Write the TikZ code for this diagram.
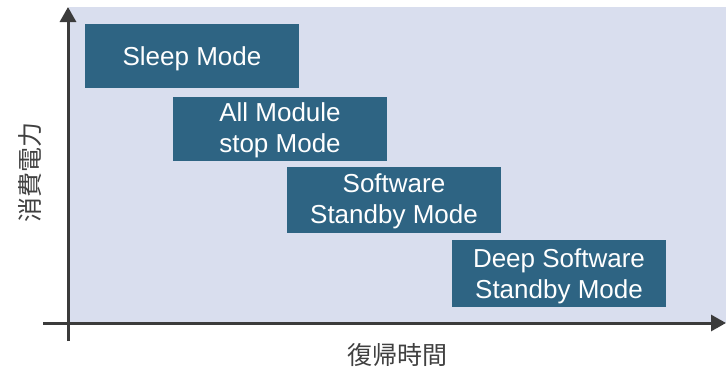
\documentclass[tikz,border=0pt]{standalone}
\usepackage{fontspec}
\setmainfont{Liberation Sans}
\newfontfamily\jpfont{Noto Sans CJK JP}
\usetikzlibrary{arrows.meta}
\definecolor{panelbg}{HTML}{D9DEEE}
\definecolor{modebox}{HTML}{2E6483}
\definecolor{axisgray}{HTML}{3B3B3B}
\definecolor{labelgray}{HTML}{404040}
\tikzset{
  modenode/.style={fill=modebox, draw=none, minimum width=214pt, inner sep=0pt},
  modetext/.style={text=white, align=center, inner sep=0pt,
    font=\fontsize{26}{31}\selectfont},
  axisline/.style={draw=axisgray, line width=3pt,
    -{Triangle[width=16pt,length=15pt]}},
  axislabel/.style={text=labelgray, inner sep=0pt, font=\jpfont\fontsize{25}{28}\selectfont}
}
\begin{document}
\begin{tikzpicture}[x=1pt,y=-1pt]
  \useasboundingbox (0,0) rectangle (726,368);
  % plot area
  \fill[panelbg] (69,7) rectangle (726,323);
  % mode boxes
  \node[modenode, minimum height=64pt] (sleep) at (192,56) {};
  \node[modenode, minimum height=64pt] (allstop) at (280,129) {};
  \node[modenode, minimum height=66pt] (swstby) at (394,200) {};
  \node[modenode, minimum height=67pt] (deepstby) at (559,273.5) {};
  % box captions, set a little below the box centres
  \node[modetext] (sleeptxt) at ([yshift=-3pt]sleep.center) {Sleep Mode};
  \node[modetext] (allstoptxt) at ([yshift=-1.5pt]allstop.center) {All Module\\stop Mode};
  \node[modetext] (swstbytxt) at ([yshift=-1.5pt]swstby.center) {Software\\Standby Mode};
  \node[modetext] (deepstbytxt) at ([yshift=-2.5pt]deepstby.center) {Deep Software\\Standby Mode};
  % axes
  \coordinate (yfoot) at (68,341);
  \coordinate (ytip) at (68,7);
  \coordinate (xfoot) at (43,323);
  \coordinate (xtip) at (726,323);
  \draw[axisline] (yfoot) -- (ytip);
  \draw[axisline] (xfoot) -- (xtip);
  % axis titles
  \node[axislabel, rotate=90] (ylab) at (30,172) {消費電力};
  \node[axislabel] (xlab) at (397,355) {復帰時間};
\end{tikzpicture}
\end{document}
